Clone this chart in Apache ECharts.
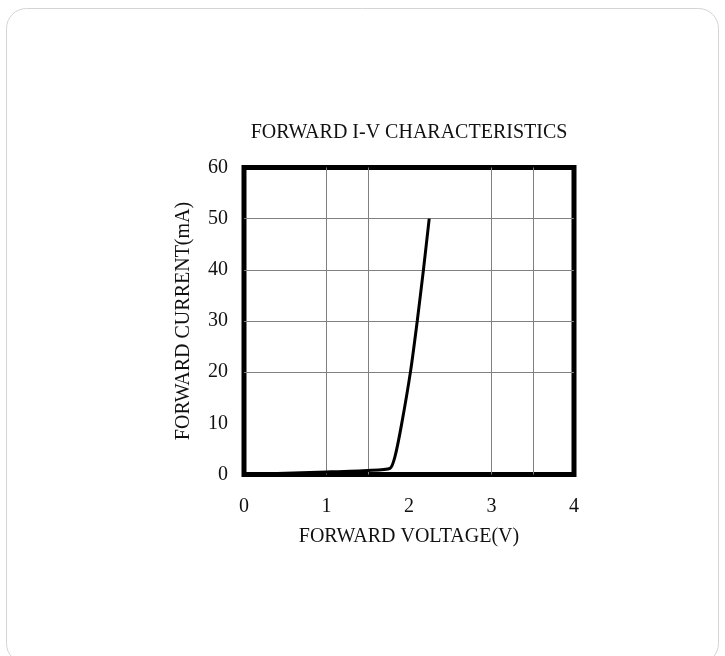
<!DOCTYPE html>
<html>
<head>
<meta charset="utf-8">
<script src="https://cdn.jsdelivr.net/npm/echarts@6/dist/echarts.min.js"></script>
<style>
html,body{margin:0;padding:0;background:#fff;}
#c{width:725px;height:656px;}
</style>
</head>
<body>
<div id="c"></div>
<script>
// Data
const voltage = [0, 0.4, 1.0, 1.5, 1.77, 1.83, 1.91, 2.02, 2.10, 2.175, 2.245];
const current = [0, 0.2, 0.5, 0.8, 1.2, 3.5, 9.8, 20.3, 30, 40, 50];
const vGridLines = [1, 1.5, 3, 3.5];
const iGridLines = [20, 30, 40, 50];
const titleText = 'FORWARD I-V CHARACTERISTICS';
const xName = 'FORWARD VOLTAGE(V)';
const yName = 'FORWARD CURRENT(mA)';

const FONT = 'Liberation Serif';
const FS = 20;
const chart = echarts.init(document.getElementById('c'), null, {renderer: 'canvas'});
const pts = voltage.map((v, i) => [v, current[i]]);
const markData = vGridLines.map(v => ({xAxis: v})).concat(iGridLines.map(i => ({yAxis: i})));

chart.setOption({
  backgroundColor: '#fff',
  animation: false,
  graphic: [{
    type: 'rect', silent: true, z: -10,
    shape: {x: 6.5, y: 8.5, width: 712, height: 655, r: 20},
    style: {fill: '#fff', stroke: '#d4d4d4', lineWidth: 1}
  }],
  title: {
    text: titleText, left: 404, top: 118, textAlign: 'center',
    textStyle: {fontFamily: FONT, fontSize: FS, fontWeight: 'normal', color: '#111'}
  },
  grid: {
    left: 244, top: 167.5, width: 330, height: 307,
    show: true, borderColor: '#000', borderWidth: 5, backgroundColor: 'transparent'
  },
  xAxis: {
    type: 'value', min: 0, max: 4, interval: 1,
    name: xName, nameLocation: 'middle', nameGap: 52,
    nameTextStyle: {fontFamily: FONT, fontSize: FS, color: '#111'},
    axisLine: {show: false}, axisTick: {show: false}, splitLine: {show: false},
    axisLabel: {fontFamily: FONT, fontSize: FS, color: '#111', margin: 22}
  },
  yAxis: {
    type: 'value', min: 0, max: 60, interval: 10,
    name: yName, nameLocation: 'middle', nameGap: 50, nameRotate: 90,
    nameTextStyle: {fontFamily: FONT, fontSize: FS, color: '#111'},
    axisLine: {show: false}, axisTick: {show: false}, splitLine: {show: false},
    axisLabel: {fontFamily: FONT, fontSize: FS, color: '#111', margin: 16}
  },
  series: [{
    type: 'line', data: pts, showSymbol: false, smooth: 0.2,
    lineStyle: {color: '#000', width: 3}, z: 5,
    markLine: {
      silent: true, symbol: ['none', 'none'], label: {show: false},
      lineStyle: {color: '#808080', width: 1, type: 'solid'},
      data: markData, z: 1
    }
  }]
});
</script>
</body>
</html>
